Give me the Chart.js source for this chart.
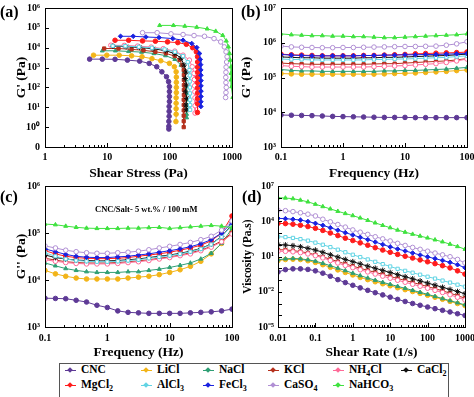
<!DOCTYPE html>
<html>
<head>
<meta charset="utf-8">
<script src="https://cdn.jsdelivr.net/npm/chart.js@4.4.1/dist/chart.umd.min.js"></script>
<style>
  body { margin: 0; background: #fff; }
  #wrap { position: relative; width: 474px; height: 397px; overflow: hidden;
          font-family: "Liberation Serif", "Times New Roman", serif; font-weight: bold; color: #000; }
  canvas { position: absolute; left: 0; top: 0; }
  .tag { position: absolute; font-size: 16px; line-height: 16px; }
  .note { position: absolute; font-size: 8.5px; white-space: nowrap; }
  #legend { position: absolute; left: 59px; top: 363px; width: 390px; height: 40px;
            border: 1px solid #555; box-sizing: border-box; background: #fff; }
  .li { position: absolute; font-size: 11.5px; line-height: 13px; white-space: nowrap; }
  .mk { position: absolute; width: 11px; height: 1px; }
  .mk i { position: absolute; left: 3px; top: -2px; width: 4px; height: 4px; transform: rotate(45deg); }
</style>
</head>
<body>
<div id="wrap">
  <canvas id="pa" width="474" height="397"></canvas>
  <canvas id="pb" width="474" height="397"></canvas>
  <canvas id="pc" width="474" height="397"></canvas>
  <canvas id="pd" width="474" height="397"></canvas>
  <div class="tag" style="left:0px;top:4px">(a)</div>
  <div class="tag" style="left:241px;top:4px">(b)</div>
  <div class="tag" style="left:0px;top:189px">(c)</div>
  <div class="tag" style="left:242px;top:189px">(d)</div>
  <div class="note" style="left:95px;top:204px">CNC/Salt- 5 wt.% / 100 mM</div>
  <div id="legend"></div>
</div>
<script>
'use strict';

/* ── series names / styles ── */
const names  = ['CNC', 'LiCl', 'NaCl', 'KCl', 'NH₄Cl', 'CaCl₂', 'MgCl₂', 'AlCl₃', 'FeCl₃', 'CaSO₄', 'NaHCO₃'];
const colors = ['#5e3a96', '#f2b418', '#2f9f74', '#b5301c', '#ff6a98', '#111111', '#ff1c1c', '#62d4e4', '#1a22e0', '#b08fd4', '#3fe23f'];
const shapes = ['circle', 'circle', 'triangle', 'rect', 'circle', 'star', 'circle', 'rect', 'rectRot', 'circle', 'triangle'];
const hollow = [false, false, false, false, true, false, false, true, false, true, false];

/* ── (a) amplitude sweep: shear stress (Pa) vs G' (Pa) ── */
const aStressCNC = [5.2, 8.3, 13.3, 21, 33, 47, 62, 75, 89, 96, 99, 99, 99, 99, 98, 98, 98, 97, 97, 97];
const aGCNC      = [2660, 2660, 2600, 2370, 2110, 1620, 1100, 610, 345, 195, 110, 62, 35, 19.5, 11, 6.2, 3.5, 1.95, 1.1, 0.8];
const aStressLiCl = [6.0, 9.8, 15.5, 24.5, 36, 52, 72, 99, 119, 127, 128, 128, 128, 128, 127, 127, 127, 127, 126];
const aGLiCl      = [4200, 4200, 4200, 3900, 3500, 2800, 2200, 1630, 1100, 610, 330, 180, 100, 55, 30, 16, 8.5, 4.5, 1.9];
const aStressNaCl = [8.3, 13.5, 22, 35.5, 56, 86, 121, 152, 170, 180, 184, 186, 187, 187, 187, 187, 187];
const aGNaCl      = [7000, 7000, 6500, 6000, 5100, 4000, 2600, 1330, 600, 240, 110, 50, 24, 12, 7.5, 4.5, 3];
const aStressKCl = [8.9, 15.1, 24.5, 38, 59, 87, 120, 144, 160, 168, 169, 169, 169, 169, 169, 168, 168, 168, 168, 168, 168];
const aGKCl      = [9100, 9100, 8300, 7400, 6200, 5200, 3800, 2400, 1330, 750, 420, 240, 130, 75, 42, 24, 13, 7, 3.8, 2, 1.0];
const aStressNH4Cl = [11.4, 18.7, 30.6, 50.5, 79, 121, 164, 207, 230, 246, 250, 252, 254, 255, 256, 256];
const aGNH4Cl      = [13300, 13000, 12000, 10700, 8900, 6700, 4200, 2370, 1100, 510, 250, 120, 60, 30, 12, 5.1];
const aStressCaCl2 = [12.3, 20, 33, 54, 86, 121, 152, 170, 184, 177, 186, 180, 188, 182, 185];
const aGCaCl2      = [12000, 11300, 10300, 8900, 7100, 5000, 3000, 1330, 600, 280, 130, 60, 28, 13, 7.5];
const aStressMgCl2 = [13.3, 22, 36.7, 59, 92.5, 135, 185, 234, 268, 280, 281, 281, 281, 281, 281, 280, 280, 280, 280, 279];
const aGMgCl2      = [23700, 23700, 22000, 21300, 19600, 18100, 14900, 10000, 6200, 3500, 1900, 1050, 580, 320, 175, 95, 52, 28, 15, 5.5];
const aStressAlCl3 = [12.2, 19.5, 32, 52, 83, 121, 164, 195, 208, 210, 210, 211, 212, 213, 213, 213];
const aGAlCl3      = [12400, 12000, 11100, 9900, 8200, 6200, 3800, 1880, 750, 400, 200, 100, 50, 24, 13, 7.5];
const aStressFeCl3 = [16.3, 26, 41.5, 67.5, 112, 164, 226, 272, 301, 310, 314, 316, 317, 318, 318, 318, 318, 317, 317];
const aGFeCl3      = [37600, 37600, 34700, 32600, 28800, 23700, 16300, 10300, 5100, 2580, 1400, 760, 410, 220, 120, 65, 35, 19, 10.9];
const aStressCaSO4 = [36.7, 63, 105, 164, 246, 362, 515, 660, 753, 803, 834, 820, 805, 800, 795, 800, 810, 800, 790];
const aGCaSO4      = [57000, 57000, 50000, 46000, 41000, 37600, 28800, 19600, 11000, 6200, 3500, 1900, 1050, 580, 320, 175, 100, 55, 31];
const aStressNaHCO3 = [69, 115, 175, 272, 400, 548, 710, 810, 877, 915, 940, 965, 965, 965, 990, 1030];
const aGNaHCO3      = [133000, 133000, 122000, 108000, 89000, 68000, 42000, 21900, 11000, 5100, 2370, 1100, 510, 240, 110, 32];

/* ── (b), (c) frequency sweep ── */
const freq = [0.1, 0.147, 0.215, 0.316, 0.464, 0.681, 1, 1.47, 2.15, 3.16, 4.64, 6.81, 10, 14.7, 21.5, 31.6, 46.4, 68.1, 100];

const bCNC    = [8300, 8200, 8100, 8000, 7800, 7600, 7500, 7400, 7300, 7200, 7100, 7100, 7100, 7000, 7000, 7000, 7000, 7000, 7000];
const bLiCl   = [1.3e5, 1.27e5, 1.25e5, 1.25e5, 1.25e5, 1.25e5, 1.25e5, 1.25e5, 1.25e5, 1.25e5, 1.27e5, 1.3e5, 1.32e5, 1.35e5, 1.4e5, 1.45e5, 1.5e5, 1.58e5, 1.65e5];
const bNaCl   = [1.7e5, 1.6e5, 1.55e5, 1.55e5, 1.5e5, 1.5e5, 1.5e5, 1.5e5, 1.5e5, 1.5e5, 1.55e5, 1.55e5, 1.6e5, 1.6e5, 1.65e5, 1.7e5, 1.75e5, 1.85e5, 1.95e5];
const bKCl    = [2.6e5, 2.5e5, 2.45e5, 2.4e5, 2.4e5, 2.4e5, 2.4e5, 2.4e5, 2.4e5, 2.45e5, 2.5e5, 2.5e5, 2.6e5, 2.7e5, 2.8e5, 2.9e5, 3.0e5, 3.2e5, 3.5e5];
const bNH4Cl  = [2.2e5, 2.1e5, 2.05e5, 2.0e5, 2.0e5, 2.0e5, 2.0e5, 2.0e5, 2.0e5, 2.05e5, 2.1e5, 2.15e5, 2.2e5, 2.3e5, 2.4e5, 2.5e5, 2.7e5, 3.0e5, 3.4e5];
const bCaCl2  = [3.9e5, 3.8e5, 3.7e5, 3.7e5, 3.6e5, 3.6e5, 3.6e5, 3.6e5, 3.7e5, 3.7e5, 3.8e5, 3.8e5, 3.9e5, 4.0e5, 4.1e5, 4.2e5, 4.3e5, 4.5e5, 4.7e5];
const bMgCl2  = [4.7e5, 4.5e5, 4.4e5, 4.3e5, 4.2e5, 4.2e5, 4.2e5, 4.2e5, 4.3e5, 4.3e5, 4.4e5, 4.5e5, 4.6e5, 4.8e5, 4.9e5, 5.0e5, 5.1e5, 5.2e5, 5.4e5];
const bAlCl3  = [3.4e5, 3.3e5, 3.3e5, 3.2e5, 3.2e5, 3.2e5, 3.2e5, 3.2e5, 3.2e5, 3.3e5, 3.3e5, 3.4e5, 3.4e5, 3.5e5, 3.6e5, 3.7e5, 3.8e5, 4.0e5, 4.2e5];
const bFeCl3  = [4.6e5, 4.4e5, 4.3e5, 4.2e5, 4.2e5, 4.2e5, 4.2e5, 4.2e5, 4.3e5, 4.3e5, 4.4e5, 4.4e5, 4.5e5, 4.5e5, 4.6e5, 4.6e5, 4.7e5, 4.8e5, 4.9e5];
const bCaSO4  = [8.0e5, 7.6e5, 7.4e5, 7.3e5, 7.2e5, 7.2e5, 7.3e5, 7.3e5, 7.4e5, 7.5e5, 7.6e5, 7.7e5, 7.8e5, 7.8e5, 7.9e5, 8.0e5, 8.5e5, 9.3e5, 1.07e6];
const bNaHCO3 = [1.8e6, 1.7e6, 1.65e6, 1.6e6, 1.6e6, 1.55e6, 1.55e6, 1.5e6, 1.5e6, 1.45e6, 1.4e6, 1.4e6, 1.45e6, 1.5e6, 1.55e6, 1.6e6, 1.65e6, 1.7e6, 1.8e6];

const cCNC    = [4100, 4050, 4000, 3700, 3400, 2900, 2600, 2200, 2050, 2000, 1950, 1950, 1950, 1950, 2000, 2050, 2100, 2200, 2400];
const cLiCl   = [1.6e4, 1.35e4, 1.2e4, 1.1e4, 1.05e4, 1.05e4, 1.05e4, 1.05e4, 1.1e4, 1.15e4, 1.2e4, 1.3e4, 1.45e4, 1.65e4, 1.95e4, 2.5e4, 3.6e4, 6.0e4, 1.07e5];
const cNaCl   = [2.3e4, 2.0e4, 1.75e4, 1.6e4, 1.5e4, 1.45e4, 1.45e4, 1.45e4, 1.5e4, 1.5e4, 1.6e4, 1.7e4, 1.85e4, 2.05e4, 2.3e4, 2.8e4, 3.7e4, 6.0e4, 1.25e5];
const cKCl    = [2.9e4, 2.65e4, 2.45e4, 2.35e4, 2.3e4, 2.3e4, 2.3e4, 2.35e4, 2.45e4, 2.55e4, 2.7e4, 2.9e4, 3.1e4, 3.4e4, 3.8e4, 4.3e4, 5.2e4, 6.8e4, 1.0e5];
const cNH4Cl  = [2.7e4, 2.5e4, 2.35e4, 2.25e4, 2.2e4, 2.2e4, 2.2e4, 2.25e4, 2.35e4, 2.45e4, 2.6e4, 2.8e4, 3.0e4, 3.3e4, 3.6e4, 4.2e4, 5.0e4, 6.5e4, 9.5e4];
const cCaCl2  = [3.4e4, 3.0e4, 2.8e4, 2.65e4, 2.6e4, 2.55e4, 2.55e4, 2.6e4, 2.7e4, 2.8e4, 3.0e4, 3.2e4, 3.4e4, 3.7e4, 4.1e4, 4.7e4, 5.8e4, 8.5e4, 1.5e5];
const cMgCl2  = [4.2e4, 3.6e4, 3.2e4, 3.0e4, 2.9e4, 2.85e4, 2.85e4, 2.9e4, 3.0e4, 3.2e4, 3.4e4, 3.6e4, 3.9e4, 4.3e4, 4.8e4, 5.5e4, 6.8e4, 1.0e5, 2.3e5];
const cAlCl3  = [3.8e4, 3.2e4, 2.8e4, 2.6e4, 2.5e4, 2.45e4, 2.45e4, 2.5e4, 2.6e4, 2.7e4, 2.9e4, 3.1e4, 3.3e4, 3.6e4, 4.0e4, 4.6e4, 5.7e4, 8.3e4, 1.45e5];
const cFeCl3  = [4.6e4, 4.0e4, 3.5e4, 3.2e4, 3.05e4, 3.0e4, 3.0e4, 3.1e4, 3.2e4, 3.4e4, 3.6e4, 3.9e4, 4.2e4, 4.6e4, 5.1e4, 5.9e4, 7.2e4, 1.0e5, 1.65e5];
const cCaSO4  = [5.3e4, 4.8e4, 4.3e4, 4.0e4, 3.8e4, 3.7e4, 3.7e4, 3.8e4, 3.9e4, 4.1e4, 4.4e4, 4.8e4, 5.2e4, 5.7e4, 6.3e4, 7.2e4, 8.5e4, 1.15e5, 1.8e5];
const cNaHCO3 = [1.55e5, 1.5e5, 1.4e5, 1.32e5, 1.27e5, 1.25e5, 1.25e5, 1.25e5, 1.27e5, 1.27e5, 1.3e5, 1.32e5, 1.25e5, 1.3e5, 1.35e5, 1.4e5, 1.45e5, 1.4e5, 1.3e5];

/* ── (d) flow curves: shear rate (1/s) vs log10 viscosity (Pa.s) ── */
const rate = [0.01, 0.0158, 0.0251, 0.0398, 0.0631, 0.1, 0.158, 0.251, 0.398, 0.631, 1, 1.58, 2.51, 3.98, 6.31,
              10, 15.8, 25.1, 39.8, 63.1, 100, 158, 251, 398, 631, 1000];
const dLogCNC    = [-0.32, -0.12, -0.05, -0.05, -0.1, -0.22, -0.42, -0.68, -0.97, -1.22, -1.45, -1.67, -1.88, -2.08, -2.27, -2.46, -2.65, -2.83, -3.0, -3.15, -3.3, -3.44, -3.58, -3.72, -3.87, -4.02];
const dLogLiCl   = [0.65, 0.74, 0.77, 0.74, 0.64, 0.5, 0.3, 0.08, -0.14, -0.36, -0.57, -0.78, -0.97, -1.15, -1.32, -1.49, -1.66, -1.82, -1.98, -2.14, -2.3, -2.47, -2.64, -2.82, -3.0, -3.18];
const dLogNaCl   = [0.72, 0.8, 0.83, 0.8, 0.72, 0.6, 0.42, 0.22, 0.01, -0.2, -0.42, -0.63, -0.83, -1.02, -1.2, -1.37, -1.54, -1.71, -1.88, -2.05, -2.22, -2.4, -2.58, -2.76, -2.94, -3.12];
const dLogKCl    = [1.58, 1.56, 1.5, 1.42, 1.3, 1.15, 0.97, 0.77, 0.57, 0.37, 0.18, 0.0, -0.18, -0.35, -0.52, -0.7, -0.87, -1.04, -1.21, -1.38, -1.56, -1.74, -1.92, -2.12, -2.33, -2.55];
const dLogNH4Cl  = [1.45, 1.44, 1.4, 1.33, 1.22, 1.07, 0.88, 0.66, 0.45, 0.24, 0.05, -0.13, -0.31, -0.49, -0.67, -0.85, -1.02, -1.19, -1.36, -1.53, -1.7, -1.88, -2.06, -2.26, -2.47, -2.7];
const dLogCaCl2  = [2.02, 1.98, 1.92, 1.83, 1.7, 1.55, 1.36, 1.15, 0.95, 0.75, 0.56, 0.37, 0.18, 0.0, -0.18, -0.36, -0.54, -0.72, -0.9, -1.08, -1.26, -1.44, -1.62, -1.8, -1.98, -2.17];
const dLogMgCl2  = [3.82, 3.8, 3.75, 3.66, 3.55, 3.4, 3.22, 3.0, 2.78, 2.56, 2.36, 2.16, 1.96, 1.75, 1.55, 1.36, 1.18, 1.02, 0.87, 0.71, 0.55, 0.39, 0.22, 0.03, -0.22, -0.5];
const dLogAlCl3  = [2.69, 2.65, 2.58, 2.48, 2.35, 2.18, 2.0, 1.8, 1.58, 1.36, 1.15, 0.95, 0.75, 0.55, 0.35, 0.15, -0.05, -0.22, -0.38, -0.55, -0.72, -0.88, -1.05, -1.22, -1.4, -1.57];
const dLogFeCl3  = [4.25, 4.22, 4.17, 4.1, 3.98, 3.82, 3.65, 3.45, 3.24, 3.03, 2.83, 2.63, 2.44, 2.23, 2.02, 1.82, 1.64, 1.47, 1.3, 1.13, 0.97, 0.82, 0.66, 0.5, 0.3, 0.05];
const dLogCaSO4  = [4.95, 4.9, 4.82, 4.72, 4.6, 4.45, 4.17, 3.95, 3.72, 3.5, 3.26, 3.07, 2.88, 2.68, 2.5, 2.32, 2.12, 1.94, 1.77, 1.61, 1.45, 1.29, 1.14, 0.98, 0.75, 0.45];
const dLogNaHCO3 = [6.0, 5.98, 5.92, 5.8, 5.65, 5.45, 5.25, 5.05, 4.85, 4.66, 4.48, 4.28, 4.08, 3.86, 3.65, 3.45, 3.25, 3.07, 2.9, 2.74, 2.58, 2.42, 2.25, 2.05, 1.85, 1.62];

/* ── tick values ── */
const aXTicks = [1, 10, 100, 1000];
const aYTicks = [0.1, 1, 10, 100, 1e3, 1e4, 1e5, 1e6];
const bXTicks = [0.1, 1, 10, 100];
const bYTicks = [1e3, 1e4, 1e5, 1e6, 1e7];
const cYTicks = [1e3, 1e4, 1e5, 1e6];
const dXTicks = [0.01, 0.1, 1, 10, 100, 1000];
const dYTicks = [1e-5, 1e-2, 10, 1e4, 1e7];

const SUP = { '-': '⁻', '0': '⁰', '1': '¹', '2': '²', '3': '³', '4': '⁴', '5': '⁵', '6': '⁶', '7': '⁷', '8': '⁸', '9': '⁹' };
const pow10 = v => '10' + String(Math.round(Math.log10(v))).split('').map(c => SUP[c]).join('');
const plain = v => String(+v.toPrecision(3));

const FONT = '"Liberation Serif", "Times New Roman", serif';
const tickFont = { family: FONT, size: 10, weight: 'bold' };
const titleFont = { family: FONT, size: 13.5, weight: 'bold' };

/* inward tick marks + full frame, like the original plots */
const frameTicks = {
  id: 'frameTicks',
  afterDraw(chart, args, opts) {
    const { ctx, chartArea: a, scales } = chart;
    ctx.save();
    ctx.strokeStyle = '#000';
    ctx.lineWidth = 1;
    ctx.strokeRect(Math.round(a.left) + .5, Math.round(a.top) + .5, Math.round(a.right - a.left), Math.round(a.bottom - a.top));
    ['x', 'y'].forEach(id => {
      const s = scales[id];
      const minor = id === 'x' ? opts.minorX : opts.minorY;
      const lo = Math.floor(Math.log10(s.min)), hi = Math.ceil(Math.log10(s.max));
      for (let e = lo; e <= hi; e++) {
        for (let m = 1; m < 10; m++) {
          if (m > 1 && !minor) break;
          const v = m * Math.pow(10, e);
          if (v < s.min * 0.999 || v > s.max * 1.001) continue;
          const p = Math.round(s.getPixelForValue(v)) + .5;
          const len = m === 1 ? 4 : 2;
          ctx.beginPath();
          if (id === 'x') { ctx.moveTo(p, a.bottom); ctx.lineTo(p, a.bottom - len); }
          else { ctx.moveTo(a.left, p); ctx.lineTo(a.left + len, p); }
          ctx.stroke();
        }
      }
    });
    ctx.restore();
  }
};

function styleSet(i, points) {
  return {
    label: names[i],
    data: points,
    showLine: true,
    borderColor: colors[i],
    backgroundColor: hollow[i] ? '#fff' : colors[i],
    pointBorderColor: colors[i],
    pointStyle: shapes[i],
    pointRadius: shapes[i] === 'star' ? 2.8 : 2.3,
    pointBorderWidth: 1,
    borderWidth: 1,
    order: names.length - i
  };
}

const zip = (xs, ys, f = v => v) => xs.map((x, k) => ({ x, y: f(ys[k]) }));

function logAxis(c, dir) {
  return {
    type: 'logarithmic',
    min: c.min, max: c.max,
    afterBuildTicks: s => { s.ticks = c.ticks.map(v => ({ value: v })); },
    afterFit: s => {
      if (dir === 'x') { s.height = c.size; s.paddingLeft = 0; s.paddingRight = 0; }
      else { s.width = c.size; s.paddingTop = 0; s.paddingBottom = 0; }
    },
    grid: { display: false, drawTicks: false },
    border: { display: false },
    ticks: { autoSkip: false, maxRotation: 0, padding: c.tickPad, color: '#000', font: tickFont, callback: v => c.label(v) },
    title: { display: true, text: c.title, color: '#000', font: c.titleFont || titleFont, padding: c.titlePad }
  };
}

function makePanel(id, datasets, cfg) {
  return new Chart(document.getElementById(id), {
    type: 'scatter',
    data: { datasets },
    options: {
      responsive: false,
      animation: false,
      events: [],
      layout: { padding: cfg.pad },
      plugins: { legend: { display: false }, tooltip: { enabled: false }, frameTicks: cfg.minor },
      scales: { x: logAxis(cfg.x, 'x'), y: logAxis(cfg.y, 'y') }
    },
    plugins: [frameTicks]
  });
}

/* (a) */
const aSets = [
  [aStressCNC, aGCNC], [aStressLiCl, aGLiCl], [aStressNaCl, aGNaCl], [aStressKCl, aGKCl],
  [aStressNH4Cl, aGNH4Cl], [aStressCaCl2, aGCaCl2], [aStressMgCl2, aGMgCl2], [aStressAlCl3, aGAlCl3],
  [aStressFeCl3, aGFeCl3], [aStressCaSO4, aGCaSO4], [aStressNaHCO3, aGNaHCO3]
].map((p, i) => styleSet(i, zip(p[0], p[1])));

makePanel('pa', aSets, {
  pad: { left: 0, top: 8, right: 242, bottom: 212 },
  minor: { minorX: true, minorY: false },
  x: { min: 1, max: 1000, ticks: aXTicks, size: 38, tickPad: 4, titlePad: 3, title: 'Shear Stress (Pa)', label: plain },
  y: { min: 0.1, max: 1e6, ticks: aYTicks, size: 45, tickPad: 5, titlePad: 13, title: "G' (Pa)", label: v => v < 1 ? '0' : pow10(v) }
});

/* (b) */
const bSeries = [bCNC, bLiCl, bNaCl, bKCl, bNH4Cl, bCaCl2, bMgCl2, bAlCl3, bFeCl3, bCaSO4, bNaHCO3];
makePanel('pb', bSeries.map((ys, i) => styleSet(i, zip(freq, ys))), {
  pad: { left: 237, top: 8, right: 7, bottom: 212 },
  minor: { minorX: true, minorY: false },
  x: { min: 0.1, max: 100, ticks: bXTicks, size: 38, tickPad: 4, titlePad: 3, title: 'Frequency (Hz)', label: plain },
  y: { min: 1e3, max: 1e7, ticks: bYTicks, size: 44, tickPad: 5, titlePad: 1, title: "G' (Pa)", label: pow10 }
});

/* (c) */
const cSeries = [cCNC, cLiCl, cNaCl, cKCl, cNH4Cl, cCaCl2, cMgCl2, cAlCl3, cFeCl3, cCaSO4, cNaHCO3];
makePanel('pc', cSeries.map((ys, i) => styleSet(i, zip(freq, ys))), {
  pad: { left: 0, top: 186, right: 242, bottom: 35 },
  minor: { minorX: true, minorY: false },
  x: { min: 0.1, max: 100, ticks: bXTicks, size: 35, tickPad: 5, titlePad: 1, title: 'Frequency (Hz)', label: plain },
  y: { min: 1e3, max: 1e6, ticks: cYTicks, size: 45, tickPad: 5, titlePad: 13, title: "G'' (Pa)", label: pow10 }
});

/* (d) */
const dSeries = [dLogCNC, dLogLiCl, dLogNaCl, dLogKCl, dLogNH4Cl, dLogCaCl2, dLogMgCl2, dLogAlCl3, dLogFeCl3, dLogCaSO4, dLogNaHCO3];
makePanel('pd', dSeries.map((ys, i) => styleSet(i, zip(rate, ys, e => Math.pow(10, e)))), {
  pad: { left: 237, top: 186, right: 9, bottom: 35 },
  minor: { minorX: true, minorY: false },
  x: { min: 0.01, max: 1000, ticks: dXTicks, size: 35, tickPad: 5, titlePad: 1, title: 'Shear Rate (1/s)', label: plain },
  y: { min: 1e-5, max: 1e7, ticks: dYTicks, size: 41, tickPad: 4, titlePad: 4, title: 'Viscosity (Pa.s)',
       titleFont: { family: FONT, size: 11.5, weight: 'bold' }, label: pow10 }
});

/* ── legend ── */
const legendCols = [10, 86, 148, 213, 278, 346];
const legend = document.getElementById('legend');
const rich = n => n.replace(/[₀-₉]/g, c => '<sub style="font-size:8px">' + (c.charCodeAt(0) - 0x2080) + '</sub>');
names.forEach((n, i) => {
  const row = i < 6 ? 0 : 1, col = i < 6 ? i : i - 6;
  const top = row === 0 ? 6 : 21;
  const mk = document.createElement('div');
  mk.className = 'mk';
  mk.style.cssText = `left:${legendCols[col] - 5}px;top:${top}px;background:${colors[i]}`;
  mk.innerHTML = `<i style="background:${colors[i]}"></i>`;
  legend.appendChild(mk);
  const li = document.createElement('div');
  li.className = 'li';
  li.style.cssText = `left:${legendCols[col] + 11}px;top:${top - 7}px`;
  li.innerHTML = rich(n);
  legend.appendChild(li);
});
</script>
</body>
</html>
